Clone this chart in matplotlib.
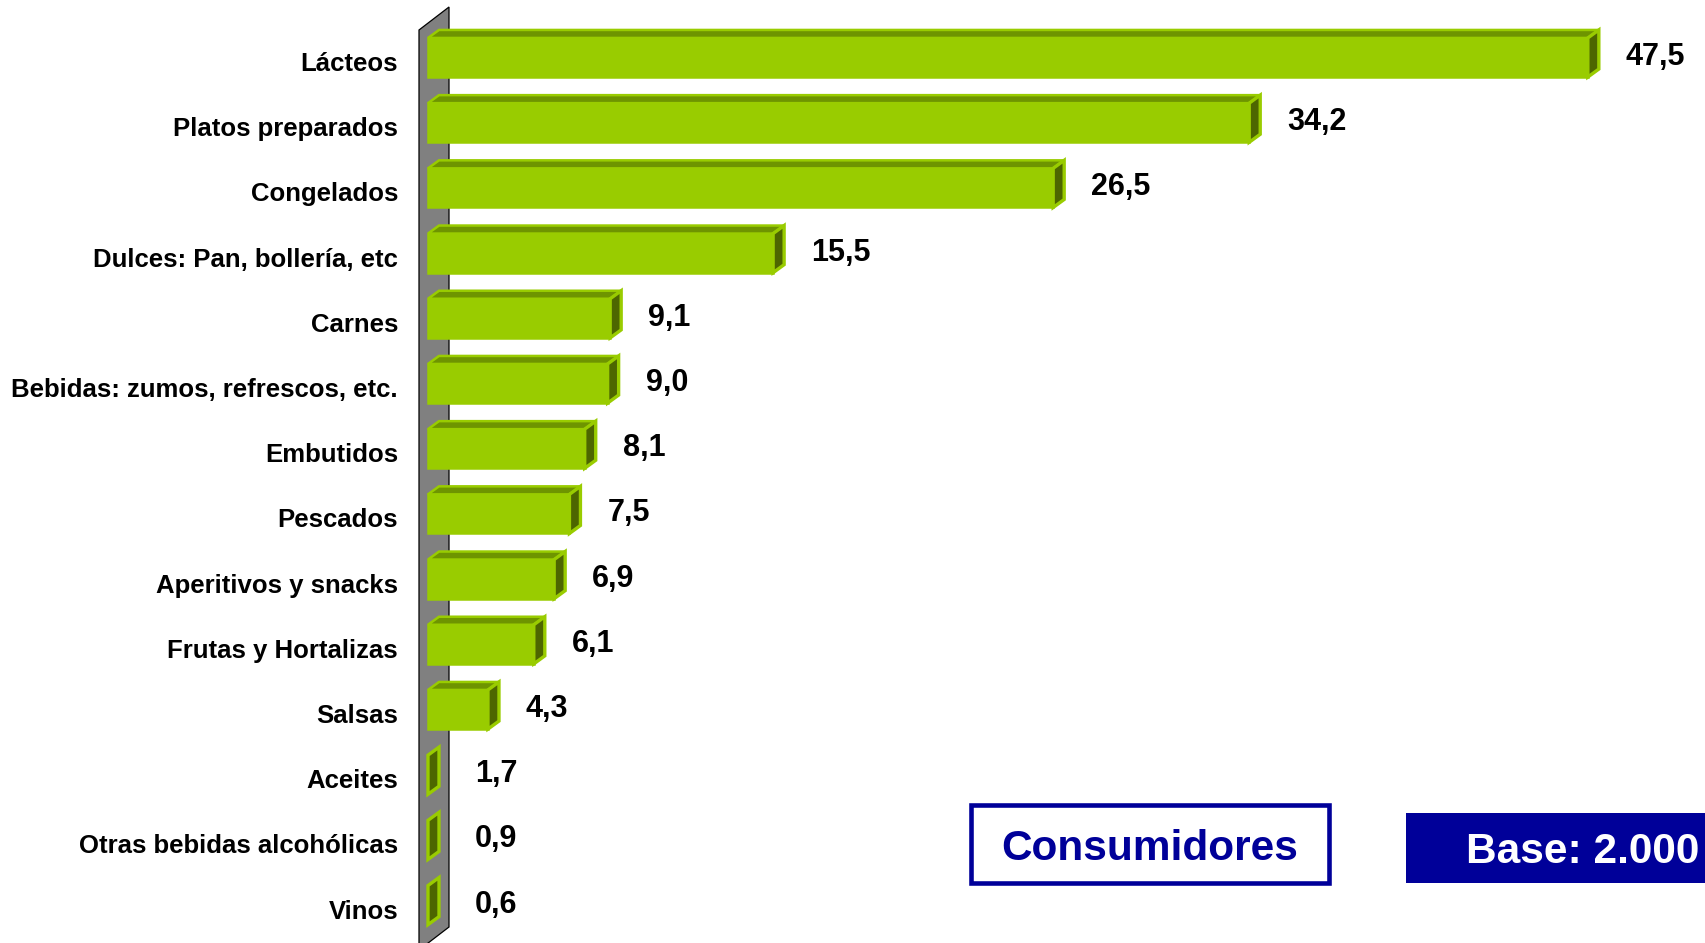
import numpy as np
import matplotlib
matplotlib.use('Agg')
import matplotlib.pyplot as plt
from matplotlib.patches import Polygon, Rectangle

plt.rcParams['font.family'] = ['Liberation Sans', 'DejaVu Sans']

# data
categorias = ['Lácteos', 'Platos preparados', 'Congelados', 'Dulces: Pan, bollería, etc',
              'Carnes', 'Bebidas: zumos, refrescos, etc.', 'Embutidos', 'Pescados',
              'Aperitivos y snacks', 'Frutas y Hortalizas', 'Salsas', 'Aceites',
              'Otras bebidas alcohólicas', 'Vinos']
valores = [47.5, 34.2, 26.5, 15.5, 9.1, 9.0, 8.1, 7.5, 6.9, 6.1, 4.3, 1.7, 0.9, 0.6]
etiquetas = ['47,5', '34,2', '26,5', '15,5', '9,1', '9,0', '8,1', '7,5', '6,9', '6,1',
             '4,3', '1,7', '0,9', '0,6']

W, H = 1705, 943
# pixel scale of the value axis and the category rows
px_x = 25.46          # px per unit
x0_px = 378.5         # where zero lands
row_px = 65.2
row0_px = 57.5

fig = plt.figure(figsize=(W / 100, H / 100), dpi=100)
ax = fig.add_axes([0, 0, 1, 1])
ax.set_xlim(-x0_px / px_x, (W - x0_px) / px_x)
ax.set_ylim((H - row0_px) / row_px, -row0_px / row_px)
ax.axis('off')

def ux(p):   # px -> value units
    return p / px_x

def uy(p):   # px -> row units
    return p / row_px

verde = '#99CC00'
verde_top = '#6E9400'
verde_lado = '#4D6600'
azul = '#000099'

# gray side wall
wall_x = ux(419 - x0_px)
wd, wh = ux(30), uy(23)
wall_top = uy(30 - row0_px)
wall_bot = uy(950 - row0_px)
ax.add_patch(Polygon([(wall_x, wall_top), (wall_x + wd, wall_top - wh),
                      (wall_x + wd, wall_bot - wh), (wall_x, wall_bot)],
                     closed=True, facecolor='#808080', edgecolor='black', lw=0.9, zorder=1))

# 3D bars
start = ux(428 - x0_px)
half = 0.3
dx, dy = ux(11), uy(8)
lw = 1.8
for i, v in enumerate(valores):
    end = max(v, start)
    top, bot = i - half, i + half
    if end > start:
        ax.add_patch(Rectangle((start, top), end - start, 2 * half, facecolor=verde,
                               edgecolor=verde, lw=lw, zorder=3))
        ax.add_patch(Polygon([(start, top), (start + dx, top - dy), (end + dx, top - dy), (end, top)],
                             closed=True, facecolor=verde_top, edgecolor=verde, lw=lw, zorder=3))
    ax.add_patch(Polygon([(end, top), (end + dx, top - dy), (end + dx, bot - dy), (end, bot)],
                         closed=True, facecolor=verde_lado, edgecolor=verde, lw=lw + 0.6, zorder=4))

    ax.text(ux(398 - x0_px), i + uy(6.5), categorias[i], ha='right', va='center',
            fontsize=18.5, fontweight='bold', color='black')
    # labels of the bars hidden behind the wall sit a bit further out
    gap = 27 if v > start else 36
    ax.text(end + dx + ux(gap), i - uy(0.5), etiquetas[i], ha='left', va='center',
            fontsize=22, fontweight='bold', color='black')

# boxes at the bottom right
def fx(p):
    return p / W

def fy(p):
    return 1 - p / H

fig.patches.append(Rectangle((fx(971), fy(883)), fx(1329) - fx(971), fy(805) - fy(883),
                             transform=fig.transFigure, facecolor='white', edgecolor=azul,
                             lw=3.3, zorder=5))
fig.text(fx(1150), fy(849), 'Consumidores', ha='center', va='center', fontsize=30.5,
         fontweight='bold', color=azul, zorder=6)

fig.patches.append(Rectangle((fx(1406), fy(883)), fx(1710) - fx(1406), fy(813) - fy(883),
                             transform=fig.transFigure, facecolor=azul, edgecolor='none', zorder=5))
fig.text(fx(1466), fy(852), 'Base: 2.000', ha='left', va='center', fontsize=30.5,
         fontweight='bold', color='white', zorder=6)

fig.savefig('out.png', dpi=100)
